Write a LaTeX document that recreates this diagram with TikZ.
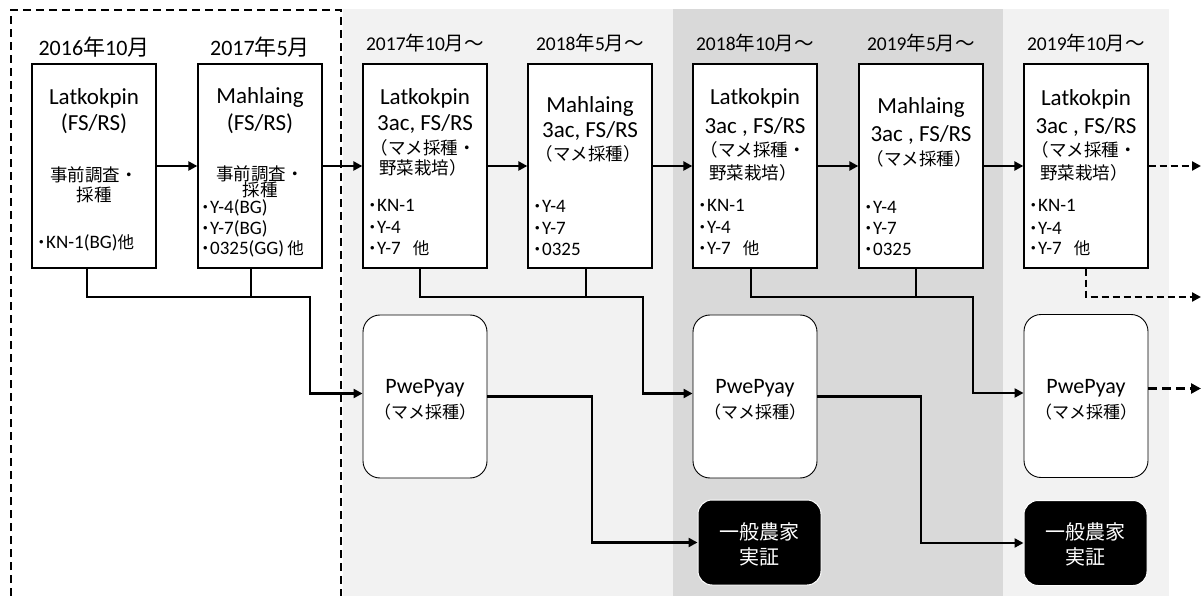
\documentclass[tikz,border=0pt]{standalone}
\usepackage{fontspec}
\setmainfont{Carlito}
\newfontfamily\jp{Noto Sans CJK JP}
\usetikzlibrary{arrows.meta}
\definecolor{lightg}{HTML}{F2F2F2}
\definecolor{darkg}{HTML}{D9D9D9}
\newcommand\fs[1]{\fontsize{#1}{#1}\selectfont}
\newcommand\J[1]{{\jp\fs{16.5}#1}}
\newcommand\dt{\J{・}\kern-3.5pt}
\begin{document}
\begin{tikzpicture}[x=1pt,y=-1pt,
  box/.style={draw, line width=1.3pt, fill=white, minimum width=124pt, minimum height=204pt, inner sep=0pt},
  rbox/.style={draw, line width=0.9pt, fill=white, rounded corners=17pt, minimum width=124pt, minimum height=163pt, inner sep=0pt},
  kbox/.style={draw=white, line width=1pt, fill=black, rounded corners=14pt, minimum width=123pt, minimum height=85pt, inner sep=0pt},
  big/.style={inner sep=0pt, anchor=center, font=\fs{23}},
  jpm/.style={inner sep=0pt, anchor=center, font=\jp\fs{17.5}},
  lst/.style={inner sep=0pt, anchor=west, font=\fs{19}},
  dateA/.style={inner sep=0pt, anchor=center, font=\fs{22}},
  dateB/.style={inner sep=0pt, anchor=center, font=\fs{19.5}},
  pw/.style={inner sep=0pt, anchor=center, font=\fs{22}},
  pwj/.style={inner sep=0pt, anchor=center, font=\jp\fs{17}},
  kt/.style={inner sep=0pt, anchor=center, text=white, font=\jp\fs{20}},
  conn/.style={line width=2.9pt, -{Triangle[length=9pt,width=9pt]}},
  ln/.style={line width=2.9pt},
  dconn/.style={line width=2.5pt, dash pattern=on 7pt off 4pt, -{Triangle[length=9pt,width=9pt]}},
  ddconn/.style={line width=3.8pt, dash pattern=on 9pt off 5pt, -{Triangle[length=10pt,width=10pt]}},
  frame/.style={line width=1.5pt, dash pattern=on 8pt off 5pt}
]
\useasboundingbox (0,0) rectangle (1203,596);
\fill[white] (0,0) rectangle (1203,596);
% background bands
\fill[lightg] (343,9) rectangle (1169,596);
\fill[darkg] (673,9) rectangle (1003,596);
% dashed frame
\draw[frame] (11,596) -- (11,10) -- (341,10) -- (341,596);

% dates
\node[dateA] (d1) at (94,47) {2016{\jp 年}10{\jp 月}};
\node[dateA] (d2) at (260,47) {2017{\jp 年}5{\jp 月}};
\node[dateB] (d3) at (425,43) {2017{\jp 年}10{\jp 月～}};
\node[dateB] (d4) at (590,43) {2018{\jp 年}5{\jp 月～}};
\node[dateB] (d5) at (755,43) {2018{\jp 年}10{\jp 月～}};
\node[dateB] (d6) at (921,43) {2019{\jp 年}5{\jp 月～}};
\node[dateB] (d7) at (1086,43) {2019{\jp 年}10{\jp 月～}};

% boxes
\node[box] (b1) at (94,166) {};
\node[box] (b2) at (260,166) {};
\node[box] (b3) at (425,166) {};
\node[box] (b4) at (590,166) {};
\node[box] (b5) at (755,166) {};
\node[box] (b6) at (921,166) {};
\node[box] (b7) at (1086,166) {};

% box 1
\node[big] (b1a) at (94,98) {Latkokpin};
\node[big] (b1b) at (94,124) {(FS/RS)};
\node[jpm] (b1c) at (94,175) {事前調査・};
\node[jpm] (b1d) at (94,195) {採種};
\node[lst] (b1e) at (33,243) {\dt KN-1(BG)\J{他}};
% box 2
\node[big] (b2a) at (260,97) {Mahlaing};
\node[big] (b2b) at (260,124) {(FS/RS)};
\node[jpm] (b2c) at (260,173.5) {事前調査・};
\node[jpm] (b2d) at (260,190) {採種};
\node[lst] (b2e) at (197,208) {\dt Y-4(BG)};
\node[lst] (b2f) at (197,229) {\dt Y-7(BG)};
\node[lst] (b2g) at (197,249) {\dt 0325(GG)\,\J{他}};
% box 3
\node[big] (b3a) at (425,98) {Latkokpin};
\node[big] (b3b) at (425,123.5) {3ac, FS/RS};
\node[jpm] (b3c) at (423,148) {（マメ採種・};
\node[jpm] (b3d) at (423,168) {野菜栽培）};
\node[lst] (b3e) at (364,205) {\dt KN-1};
\node[lst] (b3f) at (364,227) {\dt Y-4};
\node[lst] (b3g) at (364,248) {\dt Y-7\hspace{12pt}\J{他}};
% box 4
\node[big] (b4a) at (590,106.5) {Mahlaing};
\node[big] (b4b) at (590,130.5) {3ac, FS/RS};
\node[jpm] (b4c) at (588,153.5) {（マメ採種）};
\node[lst] (b4e) at (529,206) {\dt Y-4};
\node[lst] (b4f) at (529,228) {\dt Y-7};
\node[lst] (b4g) at (529,249) {\dt 0325};
% box 5
\node[big] (b5a) at (755,98) {Latkokpin};
\node[big] (b5b) at (755,127) {3ac , FS/RS};
\node[jpm] (b5c) at (753,150) {（マメ採種・};
\node[jpm] (b5d) at (753,173) {野菜栽培）};
\node[lst] (b5e) at (694,205) {\dt KN-1};
\node[lst] (b5f) at (694,227) {\dt Y-4};
\node[lst] (b5g) at (694,248) {\dt Y-7\hspace{12pt}\J{他}};
% box 6
\node[big] (b6a) at (921,107) {Mahlaing};
\node[big] (b6b) at (921,135) {3ac , FS/RS};
\node[jpm] (b6c) at (919,159) {（マメ採種）};
\node[lst] (b6e) at (860,207) {\dt Y-4};
\node[lst] (b6f) at (860,228) {\dt Y-7};
\node[lst] (b6g) at (860,249) {\dt 0325};
% box 7
\node[big] (b7a) at (1086,99) {Latkokpin};
\node[big] (b7b) at (1086,127) {3ac , FS/RS};
\node[jpm] (b7c) at (1084,150) {（マメ採種・};
\node[jpm] (b7d) at (1084,173) {野菜栽培）};
\node[lst] (b7e) at (1025,205) {\dt KN-1};
\node[lst] (b7f) at (1025,228) {\dt Y-4};
\node[lst] (b7g) at (1025,248) {\dt Y-7\hspace{12pt}\J{他}};

% rounded PwePyay boxes
\node[rbox] (p1) at (425,396.5) {};
\node[rbox] (p2) at (755,396.5) {};
\node[rbox] (p3) at (1086,396) {};
\node[pw] (p1a) at (425,388.5) {PwePyay};
\node[pwj] (p1b) at (425,412) {（マメ採種）};
\node[pw] (p2a) at (755,388.5) {PwePyay};
\node[pwj] (p2b) at (755,412) {（マメ採種）};
\node[pw] (p3a) at (1086,388.5) {PwePyay};
\node[pwj] (p3b) at (1086,412) {（マメ採種）};

% black boxes
\node[kbox] (k1) at (759.5,542.5) {};
\node[kbox] (k2) at (1085.5,543) {};
\node[kt] (k1a) at (759.5,532) {一般農家};
\node[kt] (k1b) at (759.5,557) {実証};
\node[kt] (k2a) at (1085.5,532) {一般農家};
\node[kt] (k2b) at (1085.5,557) {実証};

% top row connectors
\draw[conn] (b1.east) -- (b2.west);
\draw[conn] (b2.east) -- (b3.west);
\draw[conn] (b3.east) -- (b4.west);
\draw[conn] (b4.east) -- (b5.west);
\draw[conn] (b5.east) -- (b6.west);
\draw[conn] (b6.east) -- (b7.west);
\coordinate (e1) at (1201,166);
\draw[dconn] (b7.east) -- (e1);

% branches to PwePyay
\coordinate (j1) at (310,297);
\coordinate (j2) at (643,297);
\coordinate (j3) at (973,297);
\draw[ln] ([xshift=-9pt]b2.south) -- ([xshift=-9pt]b2.south |- j1);
\draw[conn] ([xshift=-7pt]b1.south) |- (j1) |- ([yshift=3pt]p1.west);
\draw[ln] ([xshift=-4pt]b4.south) -- ([xshift=-4pt]b4.south |- j2);
\draw[conn] ([xshift=-5pt]b3.south) |- (j2) |- ([yshift=3pt]p2.west);
\draw[ln] ([xshift=-5pt]b6.south) -- ([xshift=-5pt]b6.south |- j3);
\draw[conn] ([xshift=-4pt]b5.south) |- (j3) |- ([yshift=3pt]p3.west);
\coordinate (e2) at (1201,297);
\draw[dconn] (b7.south) |- (e2);

% PwePyay to farmers
\coordinate (t1) at (592,470);
\coordinate (t2) at (921,470);
\draw[conn] (p1.east) -| (t1) |- (k1.west);
\draw[conn] (p2.east) -| (t2) |- (k2.west);
\coordinate (e3) at (1201,388.5);
\draw[ddconn] ([yshift=7.5pt]p3.east) -- (e3);
\end{tikzpicture}
\end{document}
